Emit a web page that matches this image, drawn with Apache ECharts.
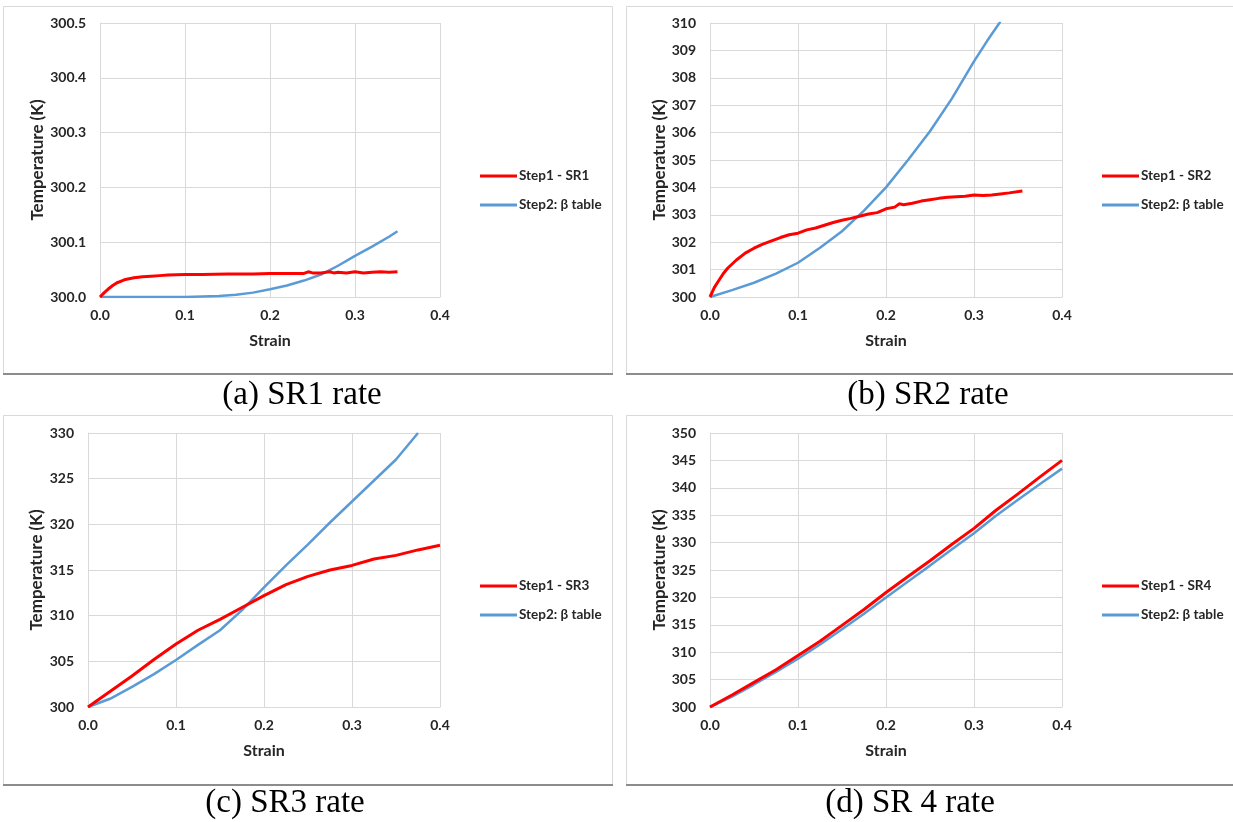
<!DOCTYPE html>
<html>
<head>
<meta charset="utf-8">
<script src="https://cdn.jsdelivr.net/npm/echarts@6/dist/echarts.min.js"></script>
<style>
  html, body { margin: 0; padding: 0; background: #fff; }
  #main { width: 1233px; height: 822px; }
</style>
</head>
<body>
<div id="main"></div>
<script>
// (a) SR1
const strainA1 = [0, 0.005, 0.01, 0.015, 0.02, 0.025, 0.03, 0.04, 0.05, 0.06, 0.07, 0.08, 0.1, 0.12, 0.15, 0.18, 0.2, 0.22, 0.24, 0.245, 0.25, 0.26, 0.27, 0.275, 0.28, 0.29, 0.3, 0.31, 0.32, 0.33, 0.34, 0.35];
const tempA1 = [300.0, 300.008, 300.015, 300.021, 300.026, 300.029, 300.032, 300.035, 300.037, 300.038, 300.039, 300.040, 300.041, 300.041, 300.042, 300.042, 300.043, 300.043, 300.043, 300.046, 300.044, 300.044, 300.046, 300.044, 300.045, 300.044, 300.046, 300.044, 300.045, 300.046, 300.045, 300.046];
const strainA2 = [0, 0.05, 0.1, 0.12, 0.14, 0.16, 0.18, 0.2, 0.22, 0.24, 0.26, 0.28, 0.3, 0.32, 0.34, 0.35];
const tempA2 = [300.0, 300.0, 300.0, 300.001, 300.002, 300.004, 300.008, 300.014, 300.021, 300.030, 300.041, 300.057, 300.075, 300.092, 300.110, 300.120];

// (b) SR2
const strainB1 = [0, 0.005, 0.01, 0.015, 0.02, 0.03, 0.04, 0.05, 0.06, 0.07, 0.08, 0.09, 0.1, 0.11, 0.12, 0.13, 0.14, 0.15, 0.16, 0.17, 0.18, 0.19, 0.2, 0.21, 0.215, 0.22, 0.23, 0.24, 0.25, 0.26, 0.27, 0.28, 0.29, 0.3, 0.31, 0.32, 0.33, 0.34, 0.355];
const tempB1 = [300, 300.35, 300.6, 300.85, 301.05, 301.35, 301.6, 301.78, 301.93, 302.05, 302.17, 302.27, 302.33, 302.45, 302.52, 302.62, 302.72, 302.8, 302.87, 302.95, 303.03, 303.08, 303.22, 303.28, 303.4, 303.37, 303.42, 303.5, 303.55, 303.6, 303.64, 303.66, 303.68, 303.72, 303.7, 303.72, 303.76, 303.8, 303.87];
const strainB2 = [0, 0.025, 0.05, 0.075, 0.1, 0.125, 0.15, 0.175, 0.2, 0.225, 0.25, 0.275, 0.3, 0.315, 0.33];
const tempB2 = [300, 300.25, 300.52, 300.85, 301.25, 301.8, 302.4, 303.15, 304.0, 305.0, 306.05, 307.25, 308.6, 309.35, 310.05];

// (c) SR3
const strainC1 = [0, 0.025, 0.05, 0.075, 0.1, 0.125, 0.15, 0.175, 0.2, 0.225, 0.25, 0.275, 0.3, 0.325, 0.35, 0.375, 0.4];
const tempC1 = [300, 301.7, 303.4, 305.2, 306.9, 308.4, 309.6, 310.9, 312.2, 313.4, 314.3, 315.0, 315.5, 316.2, 316.6, 317.2, 317.7];
const strainC2 = [0, 0.025, 0.05, 0.075, 0.1, 0.125, 0.15, 0.175, 0.2, 0.225, 0.25, 0.275, 0.3, 0.325, 0.35, 0.375];
const tempC2 = [300, 300.9, 302.2, 303.6, 305.15, 306.8, 308.4, 310.6, 313.1, 315.5, 317.8, 320.2, 322.5, 324.8, 327.1, 330.0];

// (d) SR4
const strainD = [0, 0.025, 0.05, 0.075, 0.1, 0.125, 0.15, 0.175, 0.2, 0.225, 0.25, 0.275, 0.3, 0.325, 0.35, 0.375, 0.4];
const tempD1 = [300, 302.2, 304.5, 306.8, 309.4, 312.0, 314.9, 317.8, 320.9, 323.8, 326.7, 329.7, 332.6, 335.9, 338.9, 342.0, 345.0];
const tempD2 = [300, 301.9, 304.1, 306.4, 308.8, 311.4, 314.2, 317.0, 320.0, 322.9, 325.8, 328.8, 331.7, 334.9, 337.8, 340.7, 343.5];

const captions = ["(a) SR1 rate", "(b) SR2 rate", "(c) SR3 rate", "(d) SR 4 rate"];
const redNames = ["Step1 - SR1", "Step1 - SR2", "Step1 - SR3", "Step1 - SR4"];
const blueName = "Step2: \u03b2 table";

const yRanges = [
  { min: 300, max: 300.5, interval: 0.1, digits: 1 },
  { min: 300, max: 310, interval: 1, digits: 0 },
  { min: 300, max: 330, interval: 5, digits: 0 },
  { min: 300, max: 350, interval: 5, digits: 0 },
];

const pairs = (xs, ys) => xs.map((x, i) => [x, ys[i]]);
const redData = [pairs(strainA1, tempA1), pairs(strainB1, tempB1), pairs(strainC1, tempC1), pairs(strainD, tempD1)];
const blueData = [pairs(strainA2, tempA2), pairs(strainB2, tempB2), pairs(strainC2, tempC2), pairs(strainD, tempD2)];

// layout of the four panels
const grids = [
  { left: 100, top: 23, width: 340, height: 274 },
  { left: 710, top: 23, width: 352, height: 274 },
  { left: 88, top: 433, width: 352, height: 274 },
  { left: 710, top: 433, width: 352, height: 274 },
];
const yNameGap = [54, 42, 43, 42];
const legendPos = [
  { left: 475, top: 164 },
  { left: 1097, top: 164 },
  { left: 475, top: 574 },
  { left: 1097, top: 574 },
];
const boxes = [
  { x: 3, y: 6, w: 609, h: 367 },
  { x: 626, y: 6, w: 607, h: 367 },
  { x: 3, y: 415, w: 609, h: 369 },
  { x: 626, y: 415, w: 607, h: 369 },
];
const captionPos = [
  { x: 302, y: 395 },
  { x: 928, y: 395 },
  { x: 285, y: 803 },
  { x: 910, y: 803 },
];

const font = "Lato, 'Liberation Sans', sans-serif";
const txt = "#262626";
const grid = "#d9d9d9";

const chart = echarts.init(document.getElementById("main"), null, { renderer: "canvas" });

const option = {
  animation: false,
  backgroundColor: "#fff",
  grid: grids.map((g) => ({ ...g, containLabel: false })),
  xAxis: grids.map((g, i) => ({
    type: "value",
    gridIndex: i,
    min: 0,
    max: 0.4,
    interval: 0.1,
    name: "Strain",
    nameLocation: "middle",
    nameGap: 36,
    nameTextStyle: { fontFamily: font, fontWeight: "bold", fontSize: 16, color: txt },
    axisLine: { show: true, lineStyle: { color: grid, width: 1 } },
    axisTick: { show: false },
    axisLabel: {
      margin: 11,
      fontFamily: font,
      fontWeight: "bold",
      fontSize: 14,
      color: txt,
      formatter: (v) => v.toFixed(1),
    },
    splitLine: { show: true, lineStyle: { color: grid, width: 1 } },
  })),
  yAxis: yRanges.map((r, i) => ({
    type: "value",
    gridIndex: i,
    min: r.min,
    max: r.max,
    interval: r.interval,
    name: "Temperature (K)",
    nameLocation: "middle",
    nameRotate: 90,
    nameGap: yNameGap[i],
    nameTextStyle: { fontFamily: font, fontWeight: "bold", fontSize: 17, color: txt },
    axisLine: { show: true, lineStyle: { color: grid, width: 1 } },
    axisTick: { show: false },
    axisLabel: {
      margin: 14,
      fontFamily: font,
      fontWeight: "bold",
      fontSize: 14,
      color: txt,
      formatter: (v) => v.toFixed(r.digits),
    },
    splitLine: { show: true, lineStyle: { color: grid, width: 1 } },
  })),
  legend: legendPos.map((p, i) => ({
    orient: "vertical",
    left: p.left,
    top: p.top,
    itemWidth: 37,
    itemHeight: 3,
    itemGap: 15,
    icon: "rect",
    textStyle: { fontFamily: font, fontWeight: "bold", fontSize: 13.5, color: txt, padding: [0, 0, 0, -3] },
    data: [
      { name: redNames[i], itemStyle: { color: "#ff0000" } },
      { name: blueName, itemStyle: { color: "#5b9bd5" } },
    ],
    selectedMode: false,
  })),
  series: [],
  graphic: [],
};

for (let i = 0; i < 4; i++) {
  option.series.push({
    name: redNames[i],
    type: "line",
    xAxisIndex: i,
    yAxisIndex: i,
    data: redData[i],
    symbol: "none",
    z: 3,
    lineStyle: { color: "#ff0000", width: 3 },
    itemStyle: { color: "#ff0000" },
  });
  option.series.push({
    name: blueName,
    type: "line",
    xAxisIndex: i,
    yAxisIndex: i,
    data: blueData[i],
    symbol: "none",
    z: 2,
    clip: true,
    lineStyle: { color: "#5b9bd5", width: 2.5 },
    itemStyle: { color: "#5b9bd5" },
  });

  const b = boxes[i];
  option.graphic.push({
    type: "rect",
    silent: true,
    z: -10,
    shape: { x: b.x + 0.5, y: b.y + 0.5, width: b.w, height: b.h },
    style: { fill: "#fff", stroke: "#d9d9d9", lineWidth: 1 },
  });
  option.graphic.push({
    type: "line",
    silent: true,
    z: -9,
    shape: { x1: b.x, y1: b.y + b.h + 1, x2: b.x + b.w + 1, y2: b.y + b.h + 1 },
    style: { stroke: "#8c8c8c", lineWidth: 2 },
  });
  option.graphic.push({
    type: "text",
    silent: true,
    x: captionPos[i].x,
    y: captionPos[i].y,
    style: {
      text: captions[i],
      fontFamily: "'Liberation Serif', 'Times New Roman', serif",
      fontSize: 33,
      fill: "#000",
      align: "center",
      verticalAlign: "middle",
    },
  });
}

chart.setOption(option);
</script>
</body>
</html>
